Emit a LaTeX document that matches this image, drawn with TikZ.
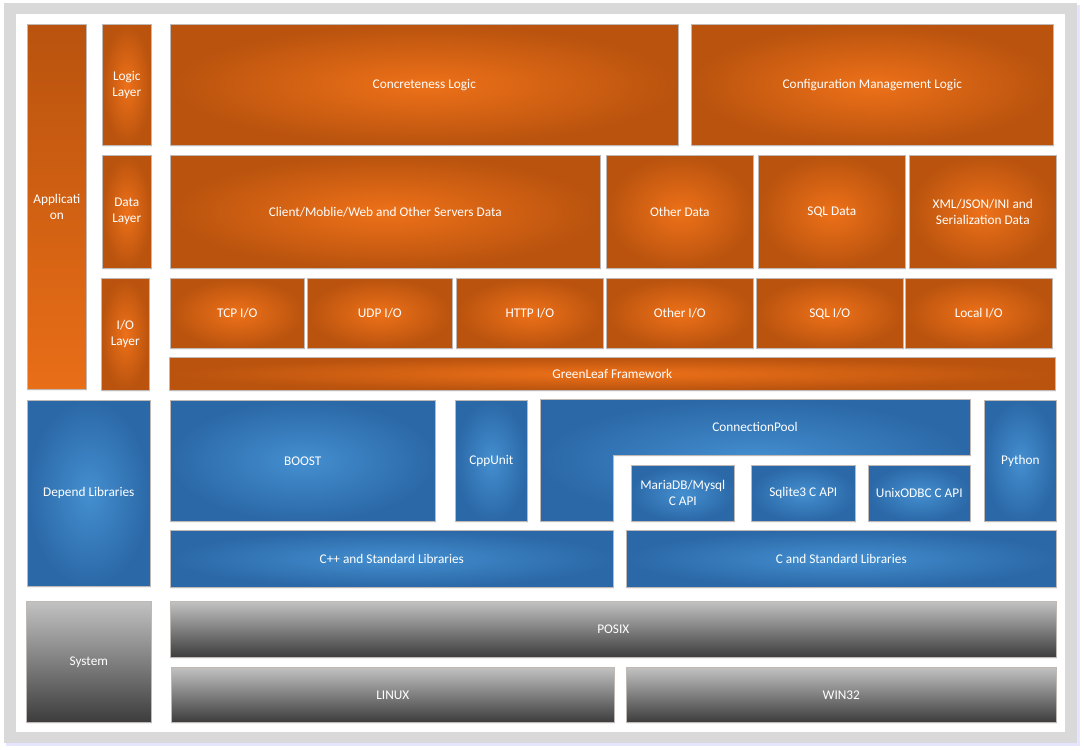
\documentclass[tikz,border=0pt]{standalone}
\usepackage{fontspec}
\setmainfont{Carlito}
\usetikzlibrary{shadows}
\definecolor{og}{HTML}{EE7119}
\definecolor{ogd}{HTML}{B9530E}
\definecolor{bl}{HTML}{448FD0}
\definecolor{bld}{HTML}{2B68A7}
\definecolor{gyt}{HTML}{C2C2C2}
\definecolor{gyb}{HTML}{3C3C3C}
\definecolor{framegray}{HTML}{D9D9D9}
\definecolor{edge}{HTML}{BFB8B4}
\tikzset{
  blk/.style={draw=edge, line width=0.6pt, text=white, font=\fontsize{13.3}{16}\selectfont,
    align=center, inner sep=0pt, anchor=north west,
    drop shadow={shadow xshift=1pt, shadow yshift=-1.5pt, opacity=0.25, fill=gray!40}},
  orng/.style={blk, inner color=og, outer color=ogd},
  orlin/.style={blk, top color=ogd, bottom color=og!90!ogd},
  blu/.style={blk, inner color=bl, outer color=bld},
  gry/.style={blk, top color=gyt, bottom color=gyb},
  lbl/.style={text=white, font=\fontsize{13.3}{16}\selectfont, align=center, inner sep=0pt},
}
\newcommand\blkbox[7]{\node[#6, minimum width={(#4)-(#2)}, minimum height={(#5)-(#3)}] (#1) at (#2,#3) {#7};}
\begin{document}
\begin{tikzpicture}[x=1pt,y=-1pt]
\useasboundingbox (0,0) rectangle (1084,751);
\fill[blue!10] (6,5) rectangle (1080,746);
\fill[framegray] (4,3) rectangle (1077,743);
\fill[white] (16,14) rectangle (1065,732);
% application part
\blkbox{app}{27}{24}{86}{389}{orlin}{Applicati\\on}
\blkbox{logicl}{102}{24}{151}{145}{orng}{Logic\\Layer}
\blkbox{concr}{170}{24}{678}{145}{orng}{Concreteness Logic}
\blkbox{config}{691}{24}{1053}{145}{orng}{Configuration Management Logic}
\blkbox{datal}{102}{155}{151}{268}{orng}{Data\\Layer}
\blkbox{client}{170}{155}{600}{268}{orng}{Client/Moblie/Web and Other Servers Data}
\blkbox{odata}{606}{155}{753}{268}{orng}{Other Data}
\blkbox{sqldata}{758}{155}{905}{268}{orng}{SQL Data}
\blkbox{xml}{909}{155}{1056}{268}{orng}{XML/JSON/INI and\\Serialization Data}
\blkbox{iol}{101}{278}{149}{390}{orng}{I/O\\Layer}
\blkbox{tcp}{170}{278}{304}{348}{orng}{TCP I/O}
\blkbox{udp}{307}{278}{452}{348}{orng}{UDP I/O}
\blkbox{http}{456}{278}{603}{348}{orng}{HTTP I/O}
\blkbox{oio}{606}{278}{753}{348}{orng}{Other I/O}
\blkbox{sqlio}{756}{278}{903}{348}{orng}{SQL I/O}
\blkbox{localio}{905}{278}{1052}{348}{orng}{Local I/O}
\blkbox{green}{169}{357}{1055}{390}{orng}{GreenLeaf Framework}
% depend libraries
\blkbox{dep}{27}{400}{150}{586}{blu}{Depend Libraries}
\blkbox{boost}{170}{400}{435}{521}{blu}{BOOST}
\blkbox{cppunit}{455}{400}{527}{521}{blu}{CppUnit}
\path[draw=edge, line width=0.6pt, inner color=bl, outer color=bld,
  drop shadow={shadow xshift=1pt, shadow yshift=-1.5pt, opacity=0.25, fill=gray!40}]
  (540,399) -- (970,399) -- (970,455) -- (613,455) -- (613,521) -- (540,521) -- cycle;
\node[lbl] (cpool) at (755,427) {ConnectionPool};
\blkbox{python}{984}{400}{1056}{521}{blu}{Python}
\blkbox{maria}{631}{465}{734}{521}{blu}{MariaDB/Mysql\\C API}
\blkbox{sqlite}{751}{465}{855}{521}{blu}{Sqlite3 C API}
\blkbox{odbc}{868}{465}{970}{521}{blu}{UnixODBC C API}
\blkbox{cpplib}{170}{530}{613}{587}{blu}{C++ and Standard Libraries}
\blkbox{clib}{626}{530}{1056}{587}{blu}{C and Standard Libraries}
% system
\blkbox{sys}{26}{601}{151}{722}{gry}{System}
\blkbox{posix}{170}{601}{1056}{657}{gry}{POSIX}
\blkbox{linux}{171}{667}{614}{722}{gry}{LINUX}
\blkbox{win}{626}{667}{1056}{722}{gry}{WIN32}
\end{tikzpicture}
\end{document}
